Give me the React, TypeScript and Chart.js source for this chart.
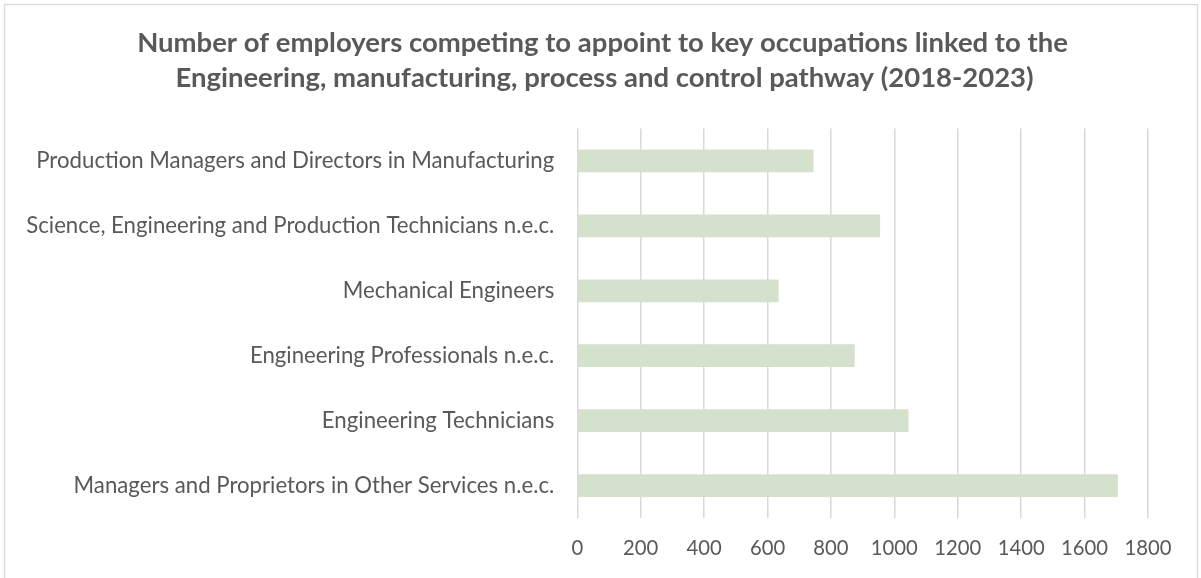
import React, { useEffect, useRef } from "react";
import { Chart, registerables } from "chart.js";

Chart.register(...registerables);

const TITLE_LINES = [
  "Number of employers competing to appoint to key occupations linked to the",
  "Engineering, manufacturing, process and control pathway (2018-2023)",
];

const CATEGORIES = [
  "Production Managers and Directors in Manufacturing",
  "Science, Engineering and Production Technicians n.e.c.",
  "Mechanical Engineers",
  "Engineering Professionals n.e.c.",
  "Engineering Technicians",
  "Managers and Proprietors in Other Services n.e.c.",
];

const EMPLOYERS = [745, 955, 635, 875, 1045, 1705];

const X_MIN = 0;
const X_MAX = 1800;
const X_STEP = 200;

const FONT = "Lato, 'Open Sans', sans-serif";
const TEXT_COLOR = "#595959";
const BAR_COLOR = "#d4e2cd";
const GRID_COLOR = "#d9d9d9";

function fitSize(text: string, weight: string, target: number): number {
  const c = document.createElement("canvas").getContext("2d");
  if (!c) return 16;
  c.font = `${weight} 100px ${FONT}`;
  const w = c.measureText(text).width;
  return (100 * target) / w;
}

export default function App() {
  const ref = useRef<HTMLCanvasElement | null>(null);

  useEffect(() => {
    document.body.style.margin = "0";
    const canvas = ref.current;
    if (!canvas) return;

    const labelSize = fitSize(CATEGORIES[5], "normal", 481);
    const tickSize = fitSize("1800", "normal", 47);
    const titleSize = fitSize(TITLE_LINES[0], "bold", 931);

    const decor = {
      id: "decor",
      beforeDraw(chart: any) {
        const ctx = chart.ctx;
        ctx.save();
        ctx.fillStyle = "#ffffff";
        ctx.fillRect(0, 0, chart.width, chart.height);
        ctx.strokeStyle = GRID_COLOR;
        ctx.lineWidth = 1.3;
        ctx.strokeRect(4.5, 4.5, 1193, 620);
        ctx.restore();
      },
      afterDraw(chart: any) {
        const ctx = chart.ctx;
        ctx.save();
        ctx.fillStyle = TEXT_COLOR;
        ctx.font = `bold ${titleSize}px ${FONT}`;
        ctx.textAlign = "center";
        ctx.textBaseline = "alphabetic";
        ctx.fillText(TITLE_LINES[0], 602.5, 52.3);
        ctx.fillText(TITLE_LINES[1], 604.5, 87.3);
        ctx.restore();
      },
    };

    const chart = new Chart(canvas, {
      type: "bar",
      data: {
        labels: CATEGORIES,
        datasets: [
          {
            data: EMPLOYERS,
            backgroundColor: BAR_COLOR,
            borderWidth: 0,
            barPercentage: 0.35,
            categoryPercentage: 1,
          },
        ],
      },
      options: {
        indexAxis: "y",
        animation: false,
        responsive: true,
        maintainAspectRatio: false,
        layout: { padding: { top: 128.5, right: 53, bottom: 0, left: 0 } },
        plugins: {
          legend: { display: false },
          tooltip: { enabled: false },
          title: { display: false },
        },
        scales: {
          x: {
            min: X_MIN,
            max: X_MAX,
            ticks: {
              stepSize: X_STEP,
              color: TEXT_COLOR,
              font: { family: FONT, size: tickSize },
              padding: 18,
              maxRotation: 0,
              callback: (value: any) => String(value),
            },
            grid: {
              color: GRID_COLOR,
              lineWidth: 1.5,
              drawTicks: false,
            },
            border: { display: false },
            afterFit(scale: any) {
              scale.height = 60;
            },
          },
          y: {
            ticks: {
              color: TEXT_COLOR,
              font: { family: FONT, size: labelSize },
              padding: 23,
            },
            grid: { display: false, drawTicks: false },
            border: { display: false },
            afterFit(scale: any) {
              scale.width = 577.3;
            },
          },
        },
      },
      plugins: [decor],
    });

    return () => chart.destroy();
  }, []);

  return (
    <div style={{ position: "fixed", left: 0, top: 0, width: 1201, height: 578 }}>
      <canvas ref={ref} />
    </div>
  );
}
